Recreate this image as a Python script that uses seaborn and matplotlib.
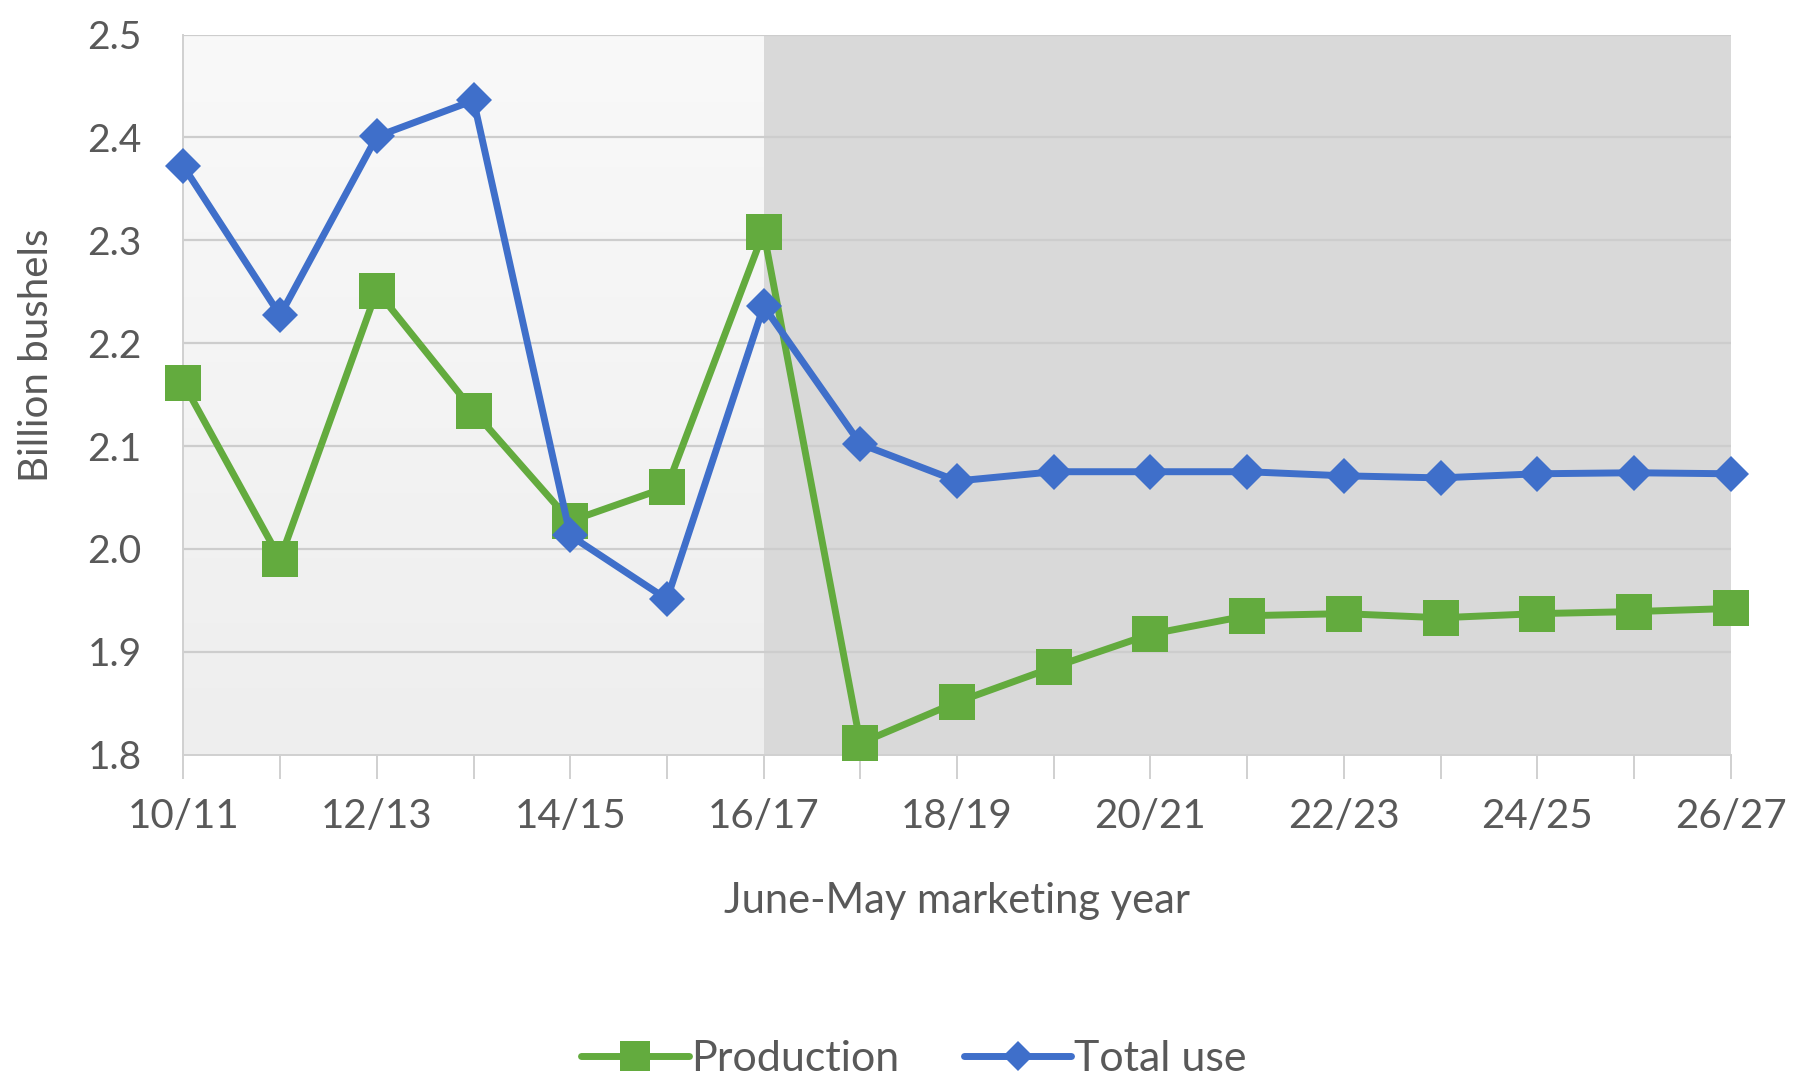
import numpy as np
import pandas as pd
import matplotlib
matplotlib.use("Agg")
import matplotlib.pyplot as plt
import seaborn as sns

# Marketing years (June-May)
years = ["10/11", "11/12", "12/13", "13/14", "14/15", "15/16", "16/17", "17/18",
         "18/19", "19/20", "20/21", "21/22", "22/23", "23/24", "24/25", "25/26", "26/27"]

# Billion bushels
production = [2.161, 1.990, 2.251, 2.134, 2.027, 2.060, 2.308, 1.811, 1.851,
              1.885, 1.917, 1.935, 1.937, 1.933, 1.937, 1.939, 1.942]
total_use = [2.372, 2.227, 2.401, 2.436, 2.013, 1.951, 2.236, 2.102, 2.066,
             2.075, 2.075, 2.075, 2.071, 2.069, 2.073, 2.074, 2.073]

y_ticks = [1.8, 1.9, 2.0, 2.1, 2.2, 2.3, 2.4, 2.5]
projection_start = 6  # index of 16/17

GREEN = "#63ab3e"
BLUE = "#3f6fca"
TEXT = "#595959"

sns.set_theme(style="white")
plt.rcParams["font.family"] = ["Lato", "DejaVu Sans"]

fig = plt.figure(figsize=(18.09, 10.83), dpi=100)
ax = fig.add_axes([0.1014, 0.3033, 0.8553, 0.6647])

pos = np.arange(len(years))
df = pd.DataFrame({"pos": pos, "Production": production, "Total use": total_use})

# Backgrounds: light gradient for history, gray block for projections
grad = np.linspace(0, 1, 256).reshape(-1, 1)
ax.imshow(grad, extent=(0, projection_start, 1.8, 2.5), aspect="auto",
          cmap=matplotlib.colors.LinearSegmentedColormap.from_list("bg", ["#f9f9f9", "#eeeeee"]),
          origin="upper", zorder=0)
ax.axvspan(projection_start, len(years) - 1, ymin=0, ymax=1, color="#d9d9d9", lw=0, zorder=0)

for yv in y_ticks[1:]:
    ax.axhline(yv, color="#cdcdcd", lw=1.6, zorder=1)

sns.lineplot(data=df, x="pos", y="Production", ax=ax, color=GREEN, lw=5.0,
             marker="s", markersize=26, markeredgewidth=0, label="Production",
             zorder=3, clip_on=False)
sns.lineplot(data=df, x="pos", y="Total use", ax=ax, color=BLUE, lw=5.0,
             marker="D", markersize=18, markeredgewidth=0, label="Total use",
             zorder=4, clip_on=False)

ax.set_xlim(0, len(years) - 1)
ax.set_ylim(1.8, 2.5)
ax.set_yticks(y_ticks)
ax.set_yticklabels([f"{v:.1f}" for v in y_ticks], fontsize=28, color=TEXT)

ax.set_xticks(pos)
ax.set_xticklabels([y if i % 2 == 0 else "" for i, y in enumerate(years)],
                   fontsize=29, color=TEXT)
ax.tick_params(axis="x", which="major", direction="out", length=17, width=1.4,
               color="#d0d0d0", pad=14, bottom=True)
ax.tick_params(axis="y", length=0, pad=30)

for side in ["top", "right"]:
    ax.spines[side].set_visible(False)
ax.spines["left"].set_color("#d0d0d0")
ax.spines["left"].set_linewidth(1.4)
ax.spines["bottom"].set_color("#d0d0d0")
ax.spines["bottom"].set_linewidth(1.4)

ax.set_ylabel("Billion bushels", fontsize=29, color=TEXT)
ax.yaxis.set_label_coords(-0.083, 0.555)
ax.set_xlabel("June-May marketing year", fontsize=30, color=TEXT, labelpad=34)

ax.get_legend().remove()
handles, labels = ax.get_legend_handles_labels()
fig.legend(handles, labels, loc="center", bbox_to_anchor=(0.505, 0.022), ncol=2,
           frameon=False, fontsize=31, handlelength=2.5, columnspacing=1.5,
           handletextpad=0.05, labelcolor=TEXT, markerscale=0.85)

fig.savefig("out.png", dpi=100, facecolor="white")
